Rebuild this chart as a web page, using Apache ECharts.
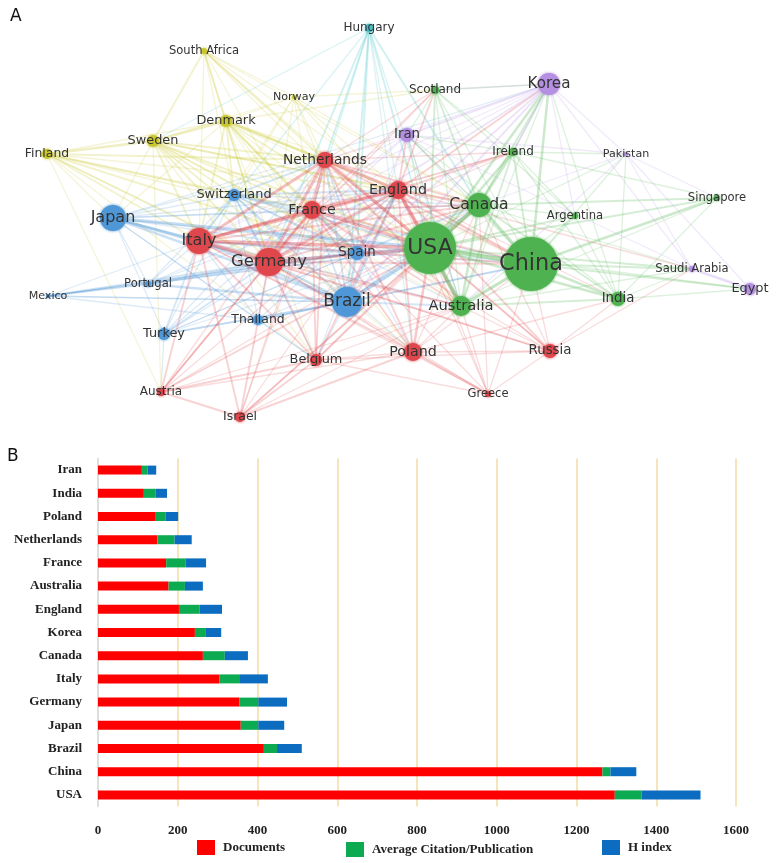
<!DOCTYPE html>
<html>
<head>
<meta charset="utf-8">
<script src="https://cdn.jsdelivr.net/npm/echarts@6/dist/echarts.min.js"></script>
<style type="text/css">
    body {margin:0px;padding:0px;overflow:hidden;background:#fff;}
    #main {width:777px;height:863px;}
</style>
</head>
<body>
<div id="main"></div>
<script type="text/javascript">
// panel B data
let countries = ['USA','China','Brazil','Japan','Germany','Italy','Canada','Korea','England','Australia','France','Netherlands','Poland','India','Iran'];
let documents = [1296,1265,416,358,354,305,263,243,203,177,171,149,143,115,110];
let citations = [67,20,33,44,48,49,55,26,52,41,49,43,27,29,14];
let hIndex = [148,65,62,65,72,72,58,40,56,45,51,43,31,29,22];
let xTicks = [0,200,400,600,800,1000,1200,1400,1600];

// panel A data
let nodeNames = ['Hungary','South Africa','Norway','Denmark','Sweden','Finland','Netherlands','Switzerland','France','Japan','Italy','Germany','Spain','Portugal','Mexico','Brazil','Thailand','Turkey','Belgium','Austria','Israel','Scotland','Korea','Iran','Ireland','Pakistan','England','Canada','Argentina','Singapore','USA','China','Australia','India','Saudi Arabia','Egypt','Poland','Russia','Greece'];
let nodeX = [369,204,294,226,153,47,325,234,312,113,199,269,357,148,48,347,258,164,316,161,240,435,549,407,513,626,398,479,575,717,430,531,461,618,692,750,413,550,488];
let nodeY = [28,51,97,121,141,154,160,195,210,218,241,262,253,284,296,302,320,334,360,392,417,90,84,135,152,154,190,205,216,198,248,264,306,299,269,289,352,351,394];
let nodeWeight = [4,3,2,6,6,5,8,6,9,13,13,14,7,3,2,15,5,6,6,4,5,4,11,7,4,2,9,12,3,3,26,27,10,7,3,6,9,7,3];
let nodeCluster = [5,3,3,3,3,3,0,2,0,2,0,0,2,2,2,2,2,2,0,0,0,1,4,4,1,4,0,1,1,1,1,1,1,1,4,4,0,0,0];

// [source, strength, targets]
let linkRows = [
    ['Hungary',2,['USA','Canada','Germany','Netherlands','Spain','Brazil']],
    ['Hungary',1,['France','Italy','England','Australia','Poland','Sweden']],
    ['South Africa',2,['Denmark','Netherlands','Sweden']],
    ['South Africa',1,['Norway','England','Germany','Switzerland','Italy','USA','Australia','Canada','Brazil']],
    ['Norway',1,['Denmark','Sweden','Netherlands','England','Germany','Italy','France','USA','Canada','Switzerland','Scotland','Spain']],
    ['Denmark',3,['Sweden','Netherlands']],
    ['Denmark',2,['England','Germany','Italy','France','Switzerland','Spain','USA']],
    ['Denmark',1,['Canada','Brazil','Australia','Japan','Poland','China','Belgium','Scotland','Finland']],
    ['Sweden',3,['Finland']],
    ['Sweden',2,['Netherlands','England','Germany','Italy','France','Switzerland','USA','Spain']],
    ['Sweden',1,['Canada','Brazil','Japan','Belgium','Australia','Austria','Poland']],
    ['Finland',2,['Netherlands','Germany','Italy','France','Spain']],
    ['Finland',1,['Switzerland','England','USA','Japan','Belgium','Brazil','Austria']],
    ['Japan',4,['USA']],
    ['Japan',3,['Germany','Brazil','Italy']],
    ['Japan',1,['France','England','Switzerland','Netherlands','Spain','Turkey','Canada','China','Australia','Korea','Portugal','Belgium','Thailand']],
    ['Switzerland',2,['Germany','Italy','France','Netherlands','England','USA','Brazil','Spain']],
    ['Switzerland',1,['Canada','China','Belgium','Turkey','Portugal','Thailand','Australia','Poland']],
    ['Brazil',5,['USA']],
    ['Brazil',3,['Spain','Germany','Italy','England','Portugal']],
    ['Brazil',2,['France','Canada','China','Netherlands','Australia']],
    ['Brazil',1,['Thailand','Turkey','Belgium','Mexico']],
    ['Spain',4,['USA']],
    ['Spain',3,['Italy','Germany','France','England']],
    ['Spain',2,['Netherlands','Canada','Portugal']],
    ['Spain',1,['Mexico','Poland','Belgium','Turkey','China']],
    ['Portugal',2,['Germany','Mexico']],
    ['Portugal',1,['Italy','USA','France','England']],
    ['Mexico',2,['Germany']],
    ['Mexico',1,['Brazil','USA','Italy','Thailand','Spain']],
    ['Turkey',2,['Italy','Germany','Brazil']],
    ['Turkey',1,['USA','France','England','Netherlands','Spain','Austria']],
    ['Thailand',1,['Italy','Germany','Brazil','USA','China','England','Belgium']],
    ['Italy',5,['Germany','USA']],
    ['Italy',4,['France','England','Netherlands']],
    ['Italy',2,['Belgium','Austria','Israel','Poland','Canada','China']],
    ['Italy',1,['Russia','Greece','Australia','Ireland']],
    ['Germany',4,['France','Netherlands','England','USA']],
    ['Germany',2,['Belgium','Austria','Israel','Poland','Russia','Canada','China','Australia']],
    ['Germany',1,['Greece','Ireland','Scotland']],
    ['France',4,['England','USA','Netherlands']],
    ['France',2,['Belgium','Poland','Canada','China','Australia','Austria']],
    ['France',1,['Russia','Israel','Greece','Scotland','Ireland']],
    ['Netherlands',4,['England','USA']],
    ['Netherlands',2,['Canada','Belgium','Poland','Australia','China']],
    ['Netherlands',1,['Ireland','Scotland','Austria','Israel','Russia','Iran']],
    ['England',5,['USA']],
    ['England',3,['Canada','China','Australia']],
    ['England',2,['Belgium','Poland','Russia','Iran','Scotland','Ireland','Korea']],
    ['England',1,['Greece','India','Saudi Arabia','Austria','Israel']],
    ['Belgium',2,['Austria','Israel','USA']],
    ['Belgium',1,['Poland','Russia','Canada','Australia','Greece']],
    ['Austria',2,['Israel','USA']],
    ['Austria',1,['Poland','Australia','Canada']],
    ['Israel',2,['Poland','USA']],
    ['Israel',1,['Canada','Australia']],
    ['Poland',3,['USA','Greece']],
    ['Poland',1,['Russia','Canada','Australia','China','India']],
    ['Russia',2,['USA']],
    ['Russia',1,['China','Greece','Australia','India','Canada','Saudi Arabia']],
    ['Greece',1,['USA','Australia','Canada','China']],
    ['USA',6,['China','Canada','Australia']],
    ['USA',3,['India','Korea','Ireland']],
    ['USA',2,['Scotland','Singapore','Argentina','Saudi Arabia']],
    ['USA',1,['Pakistan','Iran','Egypt']],
    ['China',4,['Canada','Australia']],
    ['China',3,['India','Korea','Singapore']],
    ['China',2,['Saudi Arabia','Egypt','Ireland']],
    ['China',1,['Pakistan','Scotland','Argentina','Iran']],
    ['Canada',3,['Australia','Ireland']],
    ['Canada',2,['Scotland','Korea','India','Singapore']],
    ['Canada',1,['Argentina','Iran','Saudi Arabia']],
    ['Australia',2,['India','Ireland']],
    ['Australia',1,['Scotland','Korea','Singapore','Saudi Arabia','Iran','Argentina']],
    ['Ireland',1,['Scotland','Argentina','India','Singapore','Pakistan','Korea','Iran']],
    ['Scotland',1,['Korea','Iran','Argentina']],
    ['India',1,['Argentina','Singapore','Saudi Arabia','Egypt','Korea','Pakistan','Iran']],
    ['Korea',2,['Iran','Spain','Brazil','Ireland','Germany']],
    ['Korea',1,['Pakistan','Italy','France','Netherlands','Scotland','Argentina','Saudi Arabia']],
    ['Iran',1,['Germany','Italy','France','Spain','Brazil','Canada','Australia','Pakistan','Saudi Arabia']],
    ['Pakistan',1,['Saudi Arabia','Egypt','Australia','Canada','Singapore']],
    ['Saudi Arabia',3,['Egypt']]
];

let clusterColors = ['#e0474c','#4fb250','#4f97d6','#c9c72f','#b48fe2','#3fbfc4'];
let serifFont = '"Liberation Serif", serif';

let clusterOf = {};
nodeNames.forEach(function(name,i){ clusterOf[name] = nodeCluster[i]; });

let nodes = nodeNames.map(function(name,i){
    return {
        name: name,
        value: [nodeX[i],nodeY[i]],
        symbolSize: nodeWeight[i]*2,
        itemStyle: {color: clusterColors[nodeCluster[i]], shadowBlur: 3, shadowColor: clusterColors[nodeCluster[i]]},
        label: {fontSize: 10.2+nodeWeight[i]*0.45}
    };
});

let links = [];
linkRows.forEach(function(row){
    row[2].forEach(function(target){
        links.push({
            source: row[0],
            target: target,
            lineStyle: {
                width: 0.7+row[1]*0.6,
                opacity: 0.14+row[1]*0.05,
                color: clusterColors[clusterOf[row[0]]]
            }
        });
    });
});

function legendAt(name,left,top){
    return {
        data: [name],
        left: left,
        top: top,
        padding: 0,
        icon: 'rect',
        itemWidth: 18,
        itemHeight: 15,
        textStyle: {fontFamily: serifFont, fontWeight: 'bold', fontSize: 13, color: '#222', padding: [0,0,0,3]}
    };
}

function stackBar(name,values,color){
    return {
        name: name,
        type: 'bar',
        stack: 'total',
        xAxisIndex: 1,
        yAxisIndex: 1,
        barWidth: 9,
        itemStyle: {color: color},
        data: values
    };
}

let myChart = echarts.init(document.getElementById('main'));
let option = {
    animation: false,
    title: [
        {text:'A', left:5, top:3, textStyle:{fontFamily:'"DejaVu Sans"', fontWeight:'normal', fontSize:17, color:'#111'}},
        {text:'B', left:2, top:443, textStyle:{fontFamily:'"DejaVu Sans"', fontWeight:'normal', fontSize:17, color:'#111'}}
    ],
    legend: [
        legendAt('Documents',197,840),
        legendAt('Average Citation/Publication',346,842),
        legendAt('H index',602,840)
    ],
    grid: [
        {left:0, top:0, width:777, height:440},
        {left:98, top:458.5, width:638, height:348}
    ],
    xAxis: [
        {type:'value', gridIndex:0, min:0, max:777, show:false},
        {
            type:'value',
            gridIndex:1,
            min:xTicks[0],
            max:xTicks[xTicks.length-1],
            interval:200,
            axisLine:{show:false},
            axisTick:{show:false},
            axisLabel:{
                margin:18,
                fontFamily:serifFont,
                fontWeight:'bold',
                fontSize:13,
                color:'#222',
                formatter:function(v){ return String(v); }
            },
            splitLine:{show:true, lineStyle:{color:'#f6e5bb', width:2}}
        }
    ],
    yAxis: [
        {type:'value', gridIndex:0, min:0, max:440, inverse:true, show:false},
        {
            type:'category',
            gridIndex:1,
            data:countries,
            axisLine:{show:true, lineStyle:{color:'#d5dde6', width:1.5}},
            axisTick:{show:false},
            axisLabel:{margin:16, fontFamily:serifFont, fontWeight:'bold', fontSize:13, color:'#222', interval:0},
            splitLine:{show:false}
        }
    ],
    series: [
        {
            type:'graph',
            coordinateSystem:'cartesian2d',
            xAxisIndex:0,
            yAxisIndex:0,
            layout:'none',
            silent:true,
            data:nodes,
            links:links,
            label:{show:true, position:'inside', fontFamily:'"DejaVu Sans"', color:'#333'}
        },
        stackBar('Documents',documents,'#fe0000'),
        stackBar('Average Citation/Publication',citations,'#0cab52'),
        stackBar('H index',hIndex,'#0b6cc0')
    ]
};
myChart.setOption(option);
</script>
</body>
</html>
